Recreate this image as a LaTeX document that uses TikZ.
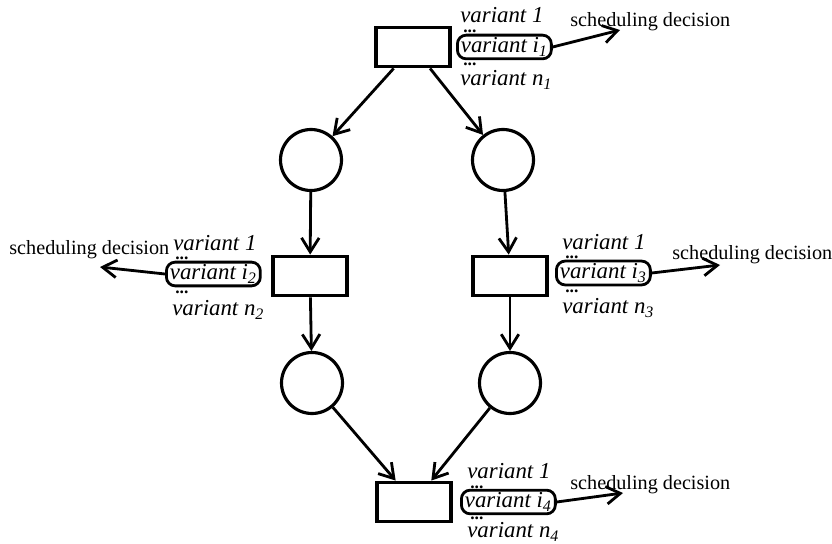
\documentclass[tikz,border=0pt]{standalone}
\usepackage{fontspec}
\setmainfont{Liberation Serif}
\usetikzlibrary{arrows.meta}

\begin{document}
\begin{tikzpicture}[x=0.02cm,y=-0.02cm,
    >={Straight Barb[length=8pt,width=10pt,line width=1.6pt]},
    trans/.style={draw,line width=2.2pt,minimum width=1.48cm,minimum height=0.78cm,inner sep=0pt},
    place/.style={draw,circle,line width=1.8pt,minimum size=1.22cm,inner sep=0pt},
    flow/.style={->,line width=1.6pt},
    chosen/.style={draw,anchor=west,rounded corners=5pt,line width=1.6pt,inner xsep=2pt,inner ysep=1.5pt,font=\fontsize{13}{14}\itshape},
    var/.style={anchor=west,inner sep=0pt,font=\fontsize{13}{14}\itshape},
    dots/.style={anchor=west,inner sep=0pt,font=\fontsize{10}{10}\bfseries},
    decision/.style={anchor=west,inner sep=0pt,font=\fontsize{11.5}{13}\selectfont}]
    \useasboundingbox (0,0) rectangle (832,544);

    % net: transitions and places
    \node[trans] (t1) at (413,47) {};
    \node[place] (p1) at (311,160) {};
    \node[place] (p2) at (503,160) {};
    \node[trans] (t2) at (310,276) {};
    \node[trans] (t3) at (510,276) {};
    \node[place] (p3) at (312,383) {};
    \node[place] (p4) at (510,383) {};
    \node[trans] (t4) at (414,502) {};

    \path[flow] (t1) edge (p1)
                     edge (p2)
                (p1) edge (t2)
                (p2) edge (t3)
                (t2) edge (p3)
                (t3) edge (p4)
                (p3) edge (t4)
                (p4) edge (t4);

    % variant lists
    \node[var]  at (460,15) {variant 1};
    \node[dots] at (463,31) {...};
    \node[chosen] (v1) at (456,47) {variant i\textsubscript{1}};
    \node[dots] at (463,64) {...};
    \node[var]  at (460,80) {variant n\textsubscript{1}};

    \node[var]  at (173,243) {variant 1};
    \node[dots] at (175,258) {...};
    \node[chosen] (v2) at (165,274) {variant i\textsubscript{2}};
    \node[dots] at (175,292) {...};
    \node[var]  at (172,310) {variant n\textsubscript{2}};

    \node[var]  at (562,242) {variant 1};
    \node[dots] at (565,257) {...};
    \node[chosen] (v3) at (555,273) {variant i\textsubscript{3}};
    \node[dots] at (565,291) {...};
    \node[var]  at (562,308) {variant n\textsubscript{3}};

    \node[var]  at (467,471) {variant 1};
    \node[dots] at (470,487) {...};
    \node[chosen] (v4) at (460,502) {variant i\textsubscript{4}};
    \node[dots] at (470,518) {...};
    \node[var]  at (467,532) {variant n\textsubscript{4}};

    % scheduling decisions
    \coordinate (e1) at (620,30);
    \coordinate (e2) at (100,267);
    \coordinate (e3) at (720,265);
    \coordinate (e4) at (623,493);
    \node[decision] (d1) at (570,22) {scheduling decision};
    \node[decision] (d2) at (9,250) {scheduling decision};
    \node[decision] (d3) at (672,255) {scheduling decision};
    \node[decision] (d4) at (570,485) {scheduling decision};

    \draw[flow] (v1.east) -- (e1);
    \draw[flow] (v2.west) -- (e2);
    \draw[flow] (v3.east) -- (e3);
    \draw[flow] (v4.east) -- (e4);
\end{tikzpicture}
\end{document}
